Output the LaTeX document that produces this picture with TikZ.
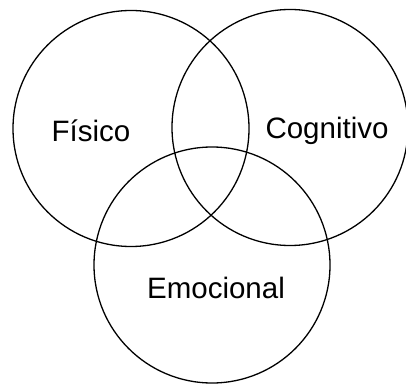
\documentclass[tikz,border=0pt]{standalone}
\usepackage{fontspec}
\setmainfont{Liberation Sans}
\begin{document}
\begin{tikzpicture}[x=1pt,y=1pt,
  ring/.style={draw=black,line width=1.3pt,circle,minimum size=236pt,inner sep=0pt},
  lbl/.style={font=\fontsize{29.5}{31}\selectfont,inner sep=0pt}]
\useasboundingbox (0,0) rectangle (406,383);
\node[ring] (fis) at (131,254.5) {};
\node[ring] (cog) at (290,255.5) {};
\node[ring] (emo) at (212,118) {};
\node[lbl] (tf) at (91,252) {Físico};
\node[lbl] (tc) at (327,252) {Cognitivo};
\node[lbl] (te) at (216,95) {Emocional};
\end{tikzpicture}
\end{document}
